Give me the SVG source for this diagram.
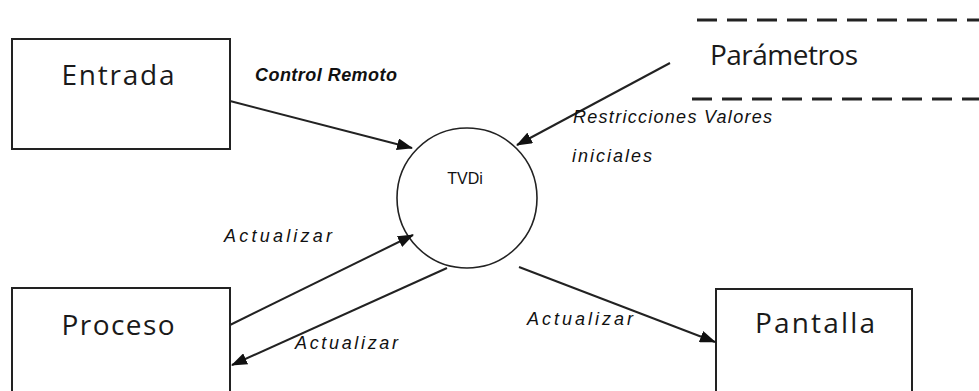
<svg xmlns="http://www.w3.org/2000/svg" width="979" height="391" viewBox="0 0 979 391">
  <style>
    .box { fill: #fff; stroke: #222; stroke-width: 2; }
    .title { font-family: "Open Sans", "Liberation Sans", sans-serif; font-size: 28px; fill: #1a1a1a; text-anchor: middle; }
    .lbl { font-family: "Liberation Sans", Arial, sans-serif; font-style: italic; font-size: 18px; fill: #111; }
    .flow { stroke: #222; stroke-width: 2; fill: none; marker-end: url(#arrow); }
    .dash { stroke: #222; stroke-width: 3; stroke-dasharray: 20 10; fill: none; }
  </style>
  <defs>
    <marker id="arrow" viewBox="0 0 16 12" refX="15" refY="6" markerWidth="16" markerHeight="12" markerUnits="userSpaceOnUse" orient="auto">
      <path d="M0,0 L16,6 L0,12 Z" fill="#111"/>
    </marker>
  </defs>
  <rect width="979" height="391" fill="#fff"/>

  <g id="entrada">
    <rect class="box" x="12" y="39" width="218" height="110"/>
    <text class="title" x="118" y="85" textLength="113" lengthAdjust="spacing">Entrada</text>
  </g>

  <g id="parametros">
    <line class="dash" x1="697" y1="20" x2="979" y2="20"/>
    <line class="dash" x1="692" y1="99" x2="979" y2="99"/>
    <text class="title" x="784" y="65" textLength="148" lengthAdjust="spacing">Parámetros</text>
  </g>

  <g id="tvdi">
    <circle cx="467" cy="198" r="70" fill="#fff" stroke="#222" stroke-width="1.6"/>
    <text x="465" y="184" font-family="Liberation Sans, Arial, sans-serif" font-size="16" fill="#111" text-anchor="middle">TVDi</text>
  </g>

  <g id="proceso">
    <rect class="box" x="12" y="288" width="218" height="110"/>
    <text class="title" x="118" y="335" textLength="113" lengthAdjust="spacing">Proceso</text>
  </g>

  <g id="pantalla">
    <rect class="box" x="716" y="289" width="196" height="110"/>
    <text class="title" x="815" y="333" textLength="120" lengthAdjust="spacing">Pantalla</text>
  </g>

  <g id="connectors">
    <line class="flow" x1="230" y1="101" x2="412" y2="148"/>
    <line class="flow" x1="670" y1="63" x2="517" y2="145"/>
    <line class="flow" x1="230" y1="325" x2="413" y2="235"/>
    <line class="flow" x1="447" y1="268" x2="232" y2="365"/>
    <line class="flow" x1="519" y1="267" x2="715" y2="342"/>
  </g>

  <g id="labels">
    <text class="lbl" x="255" y="81" font-size="14" font-weight="bold" textLength="142" lengthAdjust="spacing">Control Remoto</text>
    <text class="lbl" x="573" y="123" textLength="199" lengthAdjust="spacing">Restricciones Valores</text>
    <text class="lbl" x="572" y="162" textLength="80" lengthAdjust="spacing">iniciales</text>
    <text class="lbl" x="224" y="242" textLength="108" lengthAdjust="spacing">Actualizar</text>
    <text class="lbl" x="295" y="349" textLength="103" lengthAdjust="spacing">Actualizar</text>
    <text class="lbl" x="527" y="325" textLength="106" lengthAdjust="spacing">Actualizar</text>
  </g>
</svg>
